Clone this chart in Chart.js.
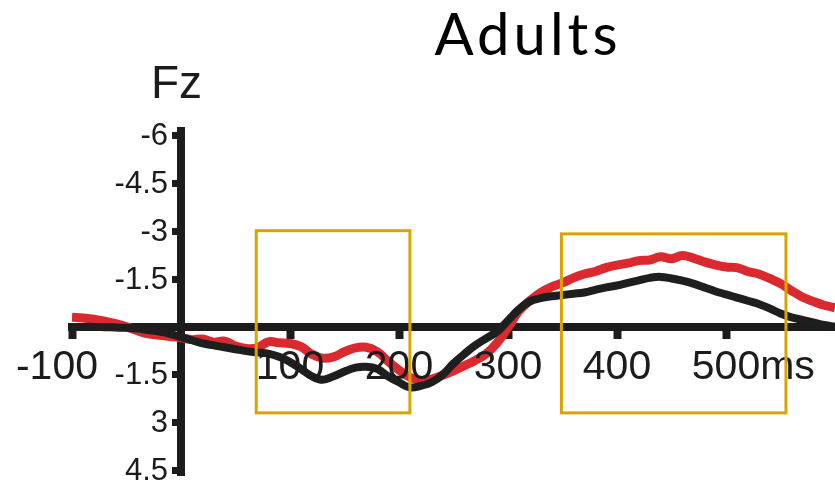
<!DOCTYPE html>
<html>
<head>
<meta charset="utf-8">
<script src="https://cdn.jsdelivr.net/npm/chart.js@4/dist/chart.umd.min.js"></script>
<style>
  html, body { margin: 0; padding: 0; background: #fff; }
  #wrap { width: 835px; height: 483px; }
</style>
</head>
<body>
<div id="wrap"><canvas id="erp" width="835" height="483"></canvas></div>
<script>
// time points (ms) and amplitudes (microvolts, negative plotted up)
var times = [-100, -90, -80, -70, -60, -50, -40, -30, -20, -10,
  0, 10, 20, 30, 40, 50, 60, 70, 80, 90,
  100, 110, 120, 130, 140, 150, 160, 170, 180, 190,
  200, 210, 220, 230, 240, 250, 260, 270, 280, 290,
  300, 310, 320, 330, 340, 350, 360, 370, 380, 390,
  400, 410, 420, 430, 440, 450, 460, 470, 480, 490,
  500, 510, 520, 530, 540, 550, 560, 570, 580, 590, 600];

var redWave = [-0.30, -0.28, -0.24, -0.18, -0.10, 0.00, 0.12, 0.22, 0.26, 0.30,
  0.34, 0.40, 0.38, 0.48, 0.45, 0.60, 0.68, 0.66, 0.47, 0.50,
  0.52, 0.62, 0.86, 0.98, 0.94, 0.78, 0.66, 0.64, 0.78, 1.08,
  1.36, 1.58, 1.68, 1.64, 1.52, 1.38, 1.22, 1.05, 0.84, 0.50,
  0.02, -0.50, -0.82, -1.08, -1.26, -1.38, -1.54, -1.66, -1.74, -1.86,
  -1.94, -2.00, -2.08, -2.10, -2.20, -2.14, -2.24, -2.16, -2.04, -1.95,
  -1.88, -1.86, -1.74, -1.66, -1.52, -1.36, -1.14, -0.94, -0.80, -0.68, -0.60];

var blackWave = [0.00, 0.00, 0.00, 0.01, 0.02, 0.03, 0.05, 0.10, 0.15, 0.22,
  0.32, 0.42, 0.52, 0.58, 0.64, 0.70, 0.76, 0.80, 0.84, 0.94,
  1.10, 1.32, 1.55, 1.66, 1.55, 1.40, 1.28, 1.25, 1.32, 1.55,
  1.74, 1.90, 1.85, 1.74, 1.50, 1.15, 0.85, 0.58, 0.36, 0.15,
  -0.20, -0.55, -0.80, -0.90, -0.96, -1.00, -1.04, -1.08, -1.16, -1.24,
  -1.30, -1.38, -1.46, -1.54, -1.57, -1.52, -1.45, -1.36, -1.24, -1.12,
  -1.02, -0.92, -0.82, -0.72, -0.58, -0.42, -0.30, -0.22, -0.14, -0.06, 0.00];

var xTicks = [-100, 100, 200, 300, 400, 500];
var xLabels = ['-100', '100', '200', '300', '400', '500'];
var yTicks = [-6, -4.5, -3, -1.5, 1.5, 3, 4.5];
var yLabels = ['-6', '-4.5', '-3', '-1.5', '-1.5', '3', '4.5'];

// analysis windows
var winStart = [69, 349];
var winEnd = [210, 555];
var winTop = [-3.02, -2.92];
var winBottom = [2.70, 2.70];

var axisCol = '#1c1c1c';
var sans = '"Liberation Sans", Arial, sans-serif';

function pts(ys) {
  return times.map(function (t, i) { return {x: t, y: ys[i]}; });
}

// tick labels drawn here since both axes cross inside the plot
var overlay = {
  id: 'overlay',
  afterDraw: function (chart) {
    var ctx = chart.ctx;
    var xs = chart.scales.x, ys = chart.scales.y;
    var x0 = xs.getPixelForValue(0), y0 = ys.getPixelForValue(0);
    ctx.save();
    ctx.fillStyle = axisCol;
    ctx.textBaseline = 'middle';

    ctx.font = '31px ' + sans;
    ctx.textAlign = 'right';
    yTicks.forEach(function (v, i) {
      ctx.fillText(yLabels[i], x0 - 13, ys.getPixelForValue(v) + 1);
    });

    ctx.font = '41px ' + sans;
    ctx.textAlign = 'center';
    xTicks.forEach(function (v, i) {
      var px = xs.getPixelForValue(v);
      if (i === 0) px -= 15; // first label sits left of its tick
      ctx.fillText(xLabels[i], px, y0 + 41);
    });
    ctx.textAlign = 'left';
    ctx.fillText('ms', xs.getPixelForValue(500) + ctx.measureText('500').width / 2, y0 + 41);

    // windows
    ctx.strokeStyle = '#d9a400';
    ctx.lineWidth = 3;
    for (var i = 0; i < winStart.length; i++) {
      var l = xs.getPixelForValue(winStart[i]);
      var r = xs.getPixelForValue(winEnd[i]);
      var t = ys.getPixelForValue(winTop[i]);
      var b = ys.getPixelForValue(winBottom[i]);
      ctx.strokeRect(l, t, r - l, b - t);
    }

    // titles
    ctx.textBaseline = 'alphabetic';
    ctx.font = '46px ' + sans;
    ctx.fillText('Fz', 151, 98);
    ctx.textAlign = 'center';
    ctx.fillStyle = '#000';
    ctx.font = '58px Lato, "Open Sans", sans-serif';
    ctx.letterSpacing = '4px';
    ctx.fillText('Adults', 528, 55);
    ctx.restore();
  }
};

new Chart(document.getElementById('erp'), {
  type: 'line',
  data: {
    datasets: [{
      label: 'black',
      data: pts(blackWave),
      borderColor: '#1e1e1e',
      borderWidth: 8,
      pointRadius: 0,
      tension: 0.4,
      fill: false
    }, {
      label: 'red',
      data: pts(redWave),
      borderColor: '#da2a30',
      borderWidth: 9,
      pointRadius: 0,
      tension: 0.4,
      fill: false
    }]
  },
  options: {
    responsive: false,
    animation: false,
    devicePixelRatio: 1,
    layout: { padding: { left: 72, top: 131, right: 0, bottom: 8 } },
    plugins: { legend: { display: false }, tooltip: { enabled: false }, title: { display: false } },
    scales: {
      x: {
        type: 'linear',
        min: -100,
        max: 600,
        position: { y: 0 },
        z: 1,
        afterBuildTicks: function (s) { s.ticks = xTicks.map(function (v) { return {value: v}; }); },
        ticks: { display: false },
        grid: { drawOnChartArea: false, drawTicks: true, tickLength: 8, tickWidth: 8, tickColor: axisCol },
        border: { color: axisCol, width: 8 }
      },
      y: {
        type: 'linear',
        reverse: true,
        min: -6.15,
        max: 4.65,
        position: { x: 0 },
        z: 1,
        afterBuildTicks: function (s) { s.ticks = yTicks.map(function (v) { return {value: v}; }); },
        ticks: { display: false },
        grid: { drawOnChartArea: false, drawTicks: true, tickLength: 5, tickWidth: 7, tickColor: axisCol },
        border: { color: axisCol, width: 8 }
      }
    }
  },
  plugins: [overlay]
});
</script>
</body>
</html>
